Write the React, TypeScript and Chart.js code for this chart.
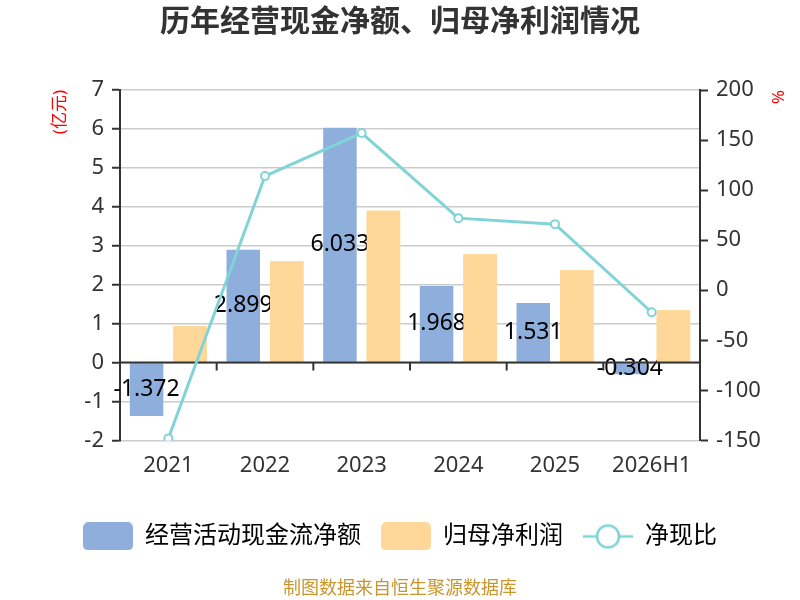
import { useEffect, useRef } from 'react';
import { Chart, registerables } from 'chart.js';

Chart.register(...registerables);

const FONT = '"Noto Sans", "Noto Sans CJK SC", sans-serif';
Chart.defaults.font.family = FONT;

const years = ['2021', '2022', '2023', '2024', '2025', '2026H1'];
const cashFlow = [-1.372, 2.899, 6.033, 1.968, 1.531, -0.304];
const netProfit = [0.93, 2.6, 3.9, 2.78, 2.37, 1.34];
const cashRatio = [-148, 114, 157, 72, 66, -22];

const BLUE = '#8eaedb';
const ORANGE = '#ffd899';
const TEAL = '#80d4d8';
const INK = '#333';

function makeMarker(draw: (c: CanvasRenderingContext2D) => void) {
    const c = document.createElement('canvas');
    c.width = 50;
    c.height = 28;
    const g = c.getContext('2d');
    if (g) draw(g);
    return c;
}

function roundBox(color: string) {
    return makeMarker(g => {
        g.fillStyle = color;
        g.beginPath();
        g.roundRect(0, 0, 50, 28, 5);
        g.fill();
    });
}

// after the blue bars: their value labels, then the orange bars again so they
// cover the labels, then the zero axis with its category ticks
const decor = {
    id: 'decor',
    afterDatasetDraw(chart: any, args: any) {
        if (args.index !== 0) return;
        const ctx = chart.ctx;
        ctx.save();
        ctx.font = `23px ${FONT}`;
        ctx.fillStyle = '#000';
        ctx.textAlign = 'center';
        ctx.textBaseline = 'middle';
        chart.getDatasetMeta(0).data.forEach((bar: any, i: number) => {
            const { x, y, base } = bar.getProps(['x', 'y', 'base'], true);
            ctx.fillText(cashFlow[i].toFixed(3), x, (y + base) / 2);
        });
        ctx.restore();

        chart.getDatasetMeta(1).data.forEach((bar: any) => bar.draw(ctx, chart.chartArea));

        const { left, right } = chart.chartArea;
        const xs = chart.scales.x;
        const y0 = chart.scales.y.getPixelForValue(0);
        ctx.save();
        ctx.strokeStyle = INK;
        ctx.lineWidth = 2;
        ctx.beginPath();
        ctx.moveTo(left, y0);
        ctx.lineTo(right, y0);
        for (let i = 1; i < years.length; i++) {
            const bx = (xs.getPixelForValue(i - 1) + xs.getPixelForValue(i)) / 2;
            ctx.moveTo(bx, y0);
            ctx.lineTo(bx, y0 + 8);
        }
        ctx.stroke();
        ctx.restore();
    },
};

export default function App() {
    const canvasRef = useRef<HTMLCanvasElement | null>(null);

    useEffect(() => {
        if (!canvasRef.current) return;
        const blueBox = roundBox(BLUE);
        const orangeBox = roundBox(ORANGE);
        const lineMark = makeMarker(g => {
            g.strokeStyle = TEAL;
            g.lineWidth = 2.5;
            g.beginPath();
            g.moveTo(0, 14);
            g.lineTo(50, 14);
            g.stroke();
            g.fillStyle = '#fff';
            g.beginPath();
            g.arc(25, 14, 11, 0, Math.PI * 2);
            g.fill();
            g.stroke();
        });

        const chart = new Chart(canvasRef.current, {
            type: 'bar',
            data: {
                labels: years,
                datasets: [
                    {
                        label: '经营活动现金流净额',
                        data: cashFlow,
                        backgroundColor: BLUE,
                        yAxisID: 'y',
                        order: 1,
                        categoryPercentage: 0.9,
                        barPercentage: 0.77,
                    },
                    {
                        label: '归母净利润',
                        data: netProfit,
                        backgroundColor: ORANGE,
                        yAxisID: 'y',
                        order: 2,
                        categoryPercentage: 0.9,
                        barPercentage: 0.77,
                    },
                    {
                        type: 'line',
                        label: '净现比',
                        data: cashRatio,
                        yAxisID: 'y1',
                        order: 0,
                        borderColor: TEAL,
                        borderWidth: 3,
                        pointRadius: 4,
                        pointBackgroundColor: '#fff',
                        pointBorderColor: TEAL,
                        pointBorderWidth: 2,
                        tension: 0,
                    } as any,
                ],
            },
            options: {
                animation: false,
                responsive: false,
                layout: { padding: 0 },
                plugins: {
                    tooltip: { enabled: false },
                    title: {
                        display: true,
                        text: '历年经营现金净额、归母净利润情况',
                        color: INK,
                        font: { size: 30, weight: 'bold' },
                        padding: { top: 4, bottom: 50 },
                    },
                    legend: {
                        position: 'bottom',
                        labels: {
                            usePointStyle: true,
                            pointStyleWidth: 50,
                            boxHeight: 28,
                            padding: 20,
                            color: INK,
                            font: { size: 24 },
                            generateLabels: () => [
                                { text: '经营活动现金流净额', pointStyle: blueBox, datasetIndex: 0, lineWidth: 0 },
                                { text: '归母净利润', pointStyle: orangeBox, datasetIndex: 1, lineWidth: 0 },
                                { text: '净现比', pointStyle: lineMark, datasetIndex: 2, lineWidth: 0 },
                            ] as any,
                        },
                    },
                    subtitle: {
                        display: true,
                        position: 'bottom',
                        text: '制图数据来自恒生聚源数据库',
                        color: '#c8962c',
                        font: { size: 18 },
                        padding: { top: 20, bottom: 0 },
                    },
                },
                scales: {
                    x: {
                        grid: { display: false, drawTicks: false },
                        border: { display: false },
                        ticks: { color: INK, font: { size: 22 }, padding: 12 },
                        afterFit: (s: any) => { s.height = 64; },
                    },
                    y: {
                        position: 'left',
                        min: -2,
                        max: 7,
                        ticks: { stepSize: 1, color: INK, font: { size: 22 }, padding: 8 },
                        grid: {
                            color: '#cccccc',
                            lineWidth: 1.5,
                            tickColor: INK,
                            tickLength: 8,
                            tickWidth: 2,
                        },
                        border: { color: INK, width: 2 },
                        title: {
                            display: true,
                            text: '(亿元)',
                            color: 'red',
                            font: { size: 17 },
                            align: 'end',
                            padding: { top: 50, bottom: 0 },
                        },
                        afterFit: (s: any) => { s.width = 120; },
                    },
                    y1: {
                        position: 'right',
                        min: -150,
                        max: 200,
                        ticks: { stepSize: 50, color: INK, font: { size: 22 }, padding: 8 },
                        grid: {
                            drawOnChartArea: false,
                            tickColor: INK,
                            tickLength: 8,
                            tickWidth: 2,
                        },
                        border: { color: INK, width: 2 },
                        title: {
                            display: true,
                            text: '%',
                            color: 'red',
                            font: { size: 17 },
                            align: 'end',
                            padding: { top: 13, bottom: 0 },
                        },
                        afterFit: (s: any) => { s.width = 100; },
                    },
                },
            },
            plugins: [decor],
        });
        return () => chart.destroy();
    }, []);

    return (
        <div style={{ position: 'fixed', left: 0, top: 0, width: 800, height: 600, background: '#fff' }}>
            <canvas ref={canvasRef} width={800} height={600} />
        </div>
    );
}
